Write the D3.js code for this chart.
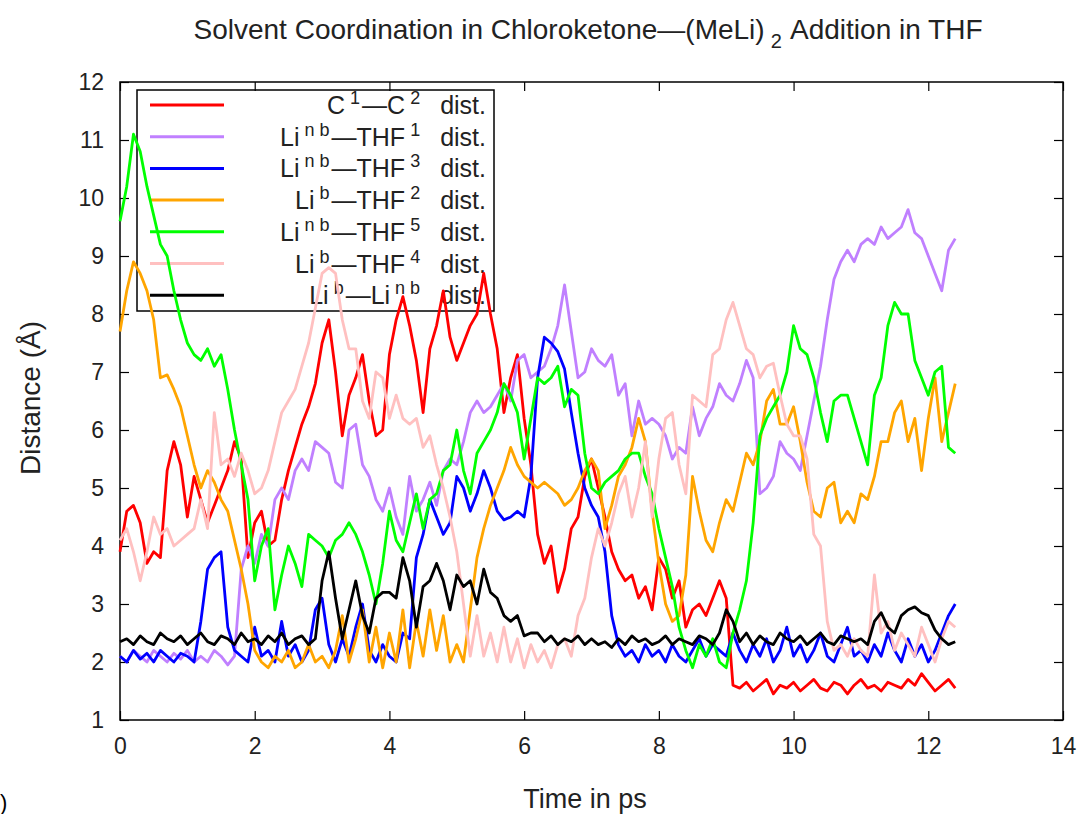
<!DOCTYPE html>
<html>
<head>
<meta charset="utf-8">
<script src="https://cdn.jsdelivr.net/npm/d3@7"></script>
<style>
  body { margin: 0; background: #fff; }
  svg { display: block; font-family: "Liberation Sans", Arial, sans-serif; }
  text { white-space: pre; }
</style>
</head>
<body>
<div id="chart"></div>
<script>
// Solvent coordination distances over the trajectory, sampled every 0.1 ps
const timePs = d3.range(125).map(i => i / 10);

const c1c2Dist = [
  3.9, 4.6, 4.7, 4.4, 3.7, 3.9, 3.8, 5.3, 5.8, 5.4,
  4.5, 5.2, 4.8, 4.4, 4.7, 5.0, 5.3, 5.8, 5.5, 3.8,
  4.4, 4.6, 4.0, 4.1, 4.8, 5.3, 5.7, 6.1, 6.4, 6.8,
  7.5, 7.9, 7.0, 5.9, 6.6, 6.9, 7.3, 6.5, 5.9, 6.0,
  7.3, 7.9, 8.3, 7.8, 7.2, 6.3, 7.4, 7.8, 8.4, 7.6,
  7.2, 7.5, 7.8, 8.0, 8.7, 8.0, 7.4, 6.3, 6.9, 7.3,
  6.2, 5.4, 4.2, 3.7, 4.0, 3.2, 3.6, 4.3, 4.5, 5.2,
  5.5, 5.0, 4.5, 3.9, 3.6, 3.4, 3.5, 3.1, 3.3, 2.9,
  3.8, 3.6, 3.1, 3.4, 2.6, 2.9, 3.0, 2.8, 3.1, 3.4,
  3.1, 1.6, 1.55, 1.65, 1.5, 1.6, 1.7, 1.45, 1.6, 1.55,
  1.65, 1.5, 1.6, 1.7, 1.55, 1.5, 1.65, 1.6, 1.45, 1.6,
  1.7, 1.55, 1.6, 1.5, 1.65, 1.6, 1.55, 1.7, 1.6, 1.8,
  1.65, 1.5, 1.6, 1.7, 1.55
];

const linbThf1Dist = [
  2.1, 2.0, 2.2, 2.1, 2.0, 2.2, 2.1, 2.0, 2.15, 2.05,
  2.2, 2.0, 2.1, 2.0, 2.2, 2.1, 1.95, 2.1, 3.6, 4.0,
  3.7, 4.2, 4.0, 4.8, 5.0, 4.8, 5.3, 5.5, 5.3, 5.8,
  5.7, 5.6, 5.1, 5.0, 6.0, 6.1, 5.4, 5.2, 4.8, 4.6,
  5.0, 4.5, 4.2, 5.2, 4.6, 4.8, 5.1, 4.7, 5.3, 5.5,
  5.4, 5.8, 6.3, 6.5, 6.3, 6.4, 6.6, 6.8, 6.5, 7.2,
  7.3, 6.9, 7.0, 7.1, 7.4, 7.8, 8.5, 7.7, 6.9, 7.0,
  7.4, 7.2, 7.1, 7.3, 6.6, 6.8, 5.9, 6.5, 6.1, 6.2,
  6.1, 5.9, 5.5, 5.7, 5.6, 6.4, 5.9, 6.2, 6.4, 6.8,
  6.6, 6.5, 6.8, 7.2, 6.9, 4.9, 5.0, 5.2, 5.8, 5.6,
  5.5, 5.3, 5.9, 6.5, 7.1, 7.9, 8.6, 8.9, 9.1, 8.9,
  9.2, 9.3, 9.2, 9.5, 9.3, 9.4, 9.5, 9.8, 9.4, 9.3,
  9.0, 8.7, 8.4, 9.1, 9.3
];

const linbThf3Dist = [
  2.1, 2.0, 2.2, 2.05, 2.15, 2.0, 2.2, 2.1, 2.0, 2.15,
  2.1, 2.0, 2.7, 3.6, 3.8, 3.9, 2.6, 2.2, 2.1, 2.0,
  2.6, 2.1, 2.2, 2.0, 2.7, 2.1, 2.3, 2.0, 2.2, 2.9,
  3.1, 2.3, 2.0, 2.4, 2.1, 2.6, 3.0, 2.2, 2.0, 2.3,
  2.1, 2.0, 2.5, 2.4, 3.8, 4.2, 4.8, 4.5, 4.2, 4.4,
  5.2, 5.0, 4.6, 4.9, 5.3, 5.0, 4.6, 4.45, 4.5, 4.6,
  4.5, 5.2, 6.9, 7.6, 7.5, 7.35, 7.05, 6.3, 5.6, 5.0,
  4.7, 4.5, 3.9, 2.8, 2.3, 2.1, 2.2, 2.0, 2.3, 2.1,
  2.2, 2.0, 2.3, 2.1, 2.0, 2.2, 2.4, 2.1, 2.3, 2.2,
  2.1, 2.5, 2.2, 2.0, 2.3, 2.1, 2.4, 2.0, 2.2, 2.6,
  2.1, 2.3, 2.0, 2.2, 2.5, 2.1, 2.0, 2.3, 2.6, 2.1,
  2.2, 2.0, 2.3, 2.1, 2.5, 2.2, 2.0, 2.4, 2.1, 2.3,
  2.0, 2.2, 2.5, 2.8, 3.0
];

const libThf2Dist = [
  7.7, 8.4, 8.9, 8.7, 8.4, 7.9, 6.9, 6.95, 6.7, 6.4,
  5.9, 5.4, 5.0, 5.3, 5.1, 4.8, 4.6, 4.1, 3.6, 3.0,
  2.2, 2.0, 1.9, 2.1, 2.0, 2.2, 1.9, 2.0, 2.3, 2.0,
  2.1, 1.9, 2.2, 2.8, 2.0, 2.4, 2.9, 2.0, 2.6, 1.9,
  2.5, 2.0, 2.9, 1.9, 2.7, 2.1, 2.9, 2.2, 2.8, 2.0,
  2.3, 2.0, 2.9, 3.8, 4.3, 4.7, 5.0, 5.3, 5.7, 5.4,
  5.2, 5.1, 5.0, 5.1, 5.0, 4.9, 4.7, 4.8, 5.0, 5.3,
  5.5, 5.3, 4.3, 4.7, 5.2, 5.4, 5.7, 6.2, 5.8, 4.6,
  3.7, 3.0, 2.7, 2.8, 3.5, 5.2, 4.6, 4.1, 3.9, 4.4,
  4.8, 4.6, 5.1, 5.6, 5.4, 5.8, 6.5, 6.7, 6.1, 6.1,
  6.4, 5.8, 5.1, 4.6, 4.5, 5.0, 5.1, 4.4, 4.6, 4.4,
  4.9, 4.8, 5.2, 5.8, 5.8, 6.3, 6.5, 5.8, 6.2, 5.3,
  6.2, 6.9, 5.8, 6.3, 6.8
];

const linbThf5Dist = [
  9.6, 10.2, 11.1, 10.8, 10.2, 9.7, 9.2, 9.0, 8.4, 7.9,
  7.5, 7.3, 7.2, 7.4, 7.1, 7.3, 6.7, 6.0, 5.4, 4.8,
  3.4, 4.0, 4.3, 2.9, 3.5, 4.0, 3.7, 3.3, 4.2, 4.1,
  4.0, 3.8, 4.1, 4.2, 4.4, 4.2, 3.9, 3.5, 3.0, 3.7,
  4.6, 4.1, 3.9, 4.4, 4.9, 4.3, 4.8, 4.9, 5.3, 5.4,
  6.0, 5.3, 4.9, 5.6, 5.8, 6.0, 6.3, 6.8, 6.6, 6.3,
  5.5, 6.2, 6.9, 6.8, 6.9, 7.1, 6.4, 6.7, 6.6, 5.6,
  5.0, 4.9, 5.1, 5.2, 5.3, 5.5, 5.6, 5.6, 5.2, 4.9,
  4.3, 3.8, 3.3, 2.6, 2.2, 1.9, 2.3, 2.1, 2.4, 2.0,
  1.9, 2.5, 2.9, 3.4, 4.4, 5.9, 6.2, 6.4, 6.6, 7.0,
  7.8, 7.4, 7.3, 6.9, 6.3, 5.8, 6.5, 6.6, 6.6, 6.2,
  5.8, 5.4, 6.6, 6.9, 7.8, 8.2, 8.0, 8.0, 7.2, 6.9,
  6.6, 7.0, 7.1, 5.7, 5.6
];

const libThf4Dist = [
  4.1, 4.3, 3.9, 3.4, 3.9, 4.5, 4.2, 4.3, 4.0, 4.1,
  4.2, 4.3, 4.8, 4.3, 6.3, 5.4, 5.5, 5.2, 5.6, 5.3,
  4.9, 5.0, 5.3, 5.8, 6.3, 6.5, 6.7, 7.1, 7.5, 8.1,
  8.7, 8.8, 8.7, 7.9, 7.4, 7.4, 6.5, 6.2, 7.0, 6.9,
  6.2, 6.6, 6.2, 6.1, 6.2, 5.7, 5.9, 5.4, 5.0, 4.5,
  3.9, 3.0, 2.1, 2.8, 2.1, 2.5, 2.0, 2.6, 2.0, 2.4,
  1.9, 2.3, 2.0, 2.2, 1.9, 2.3, 2.4, 2.1, 2.8, 3.1,
  3.8, 4.3, 4.0, 4.4, 4.9, 5.2, 4.5, 5.0, 5.8, 4.5,
  5.5, 6.2, 6.3, 5.4, 4.9, 6.6, 6.5, 6.4, 7.3, 7.4,
  7.9, 8.2, 7.8, 7.4, 7.3, 6.9, 7.1, 7.15, 6.6, 6.1,
  5.9, 5.9, 5.5, 4.2, 4.0, 2.7, 2.2, 2.3, 2.1, 2.4,
  2.2, 2.1, 3.5, 2.5, 2.7, 2.2, 2.5, 2.3, 2.1, 2.6,
  2.3, 2.0, 2.4, 2.7, 2.6
];

const libLinbDist = [
  2.35, 2.4, 2.3, 2.45, 2.35, 2.3, 2.5, 2.4, 2.35, 2.45,
  2.3, 2.4, 2.5, 2.35, 2.3, 2.45, 2.4, 2.3, 2.5, 2.35,
  2.4, 2.3, 2.45, 2.35, 2.5, 2.3, 2.4, 2.45, 2.3, 2.4,
  3.4, 3.9, 3.1, 2.4, 2.9, 3.4, 2.8, 2.5, 3.1, 3.2,
  3.2, 3.1, 3.8, 3.4, 2.6, 3.3, 3.4, 3.7, 3.4, 2.9,
  3.5, 3.3, 3.4, 3.0, 3.6, 3.2, 3.1, 2.8, 2.7, 2.8,
  2.45, 2.5, 2.5, 2.35, 2.45, 2.3, 2.4, 2.35, 2.45, 2.3,
  2.4, 2.3, 2.35, 2.25, 2.4, 2.3, 2.45, 2.35, 2.4, 2.3,
  2.35, 2.45, 2.3, 2.4, 2.35, 2.3, 2.45, 2.4, 2.3, 2.5,
  2.9, 2.7, 2.35, 2.5, 2.3, 2.45, 2.35, 2.3, 2.5, 2.4,
  2.35, 2.45, 2.3, 2.4, 2.5, 2.35, 2.3, 2.45, 2.4, 2.35,
  2.4, 2.3, 2.7, 2.85, 2.6, 2.5, 2.8, 2.9, 2.95, 2.85,
  2.8, 2.55, 2.4, 2.3, 2.35
];

const seriesValues = [c1c2Dist, linbThf1Dist, linbThf3Dist, libThf2Dist, linbThf5Dist, libThf4Dist, libLinbDist];
const seriesColors = ['#ff0000', '#c080ff', '#0000ff', '#ffa500', '#00ff00', '#ffc0c0', '#000000'];
// legend labels as [text, kind] parts; kind 'sup' = superscript
const seriesLabels = [
  [['C'], ['1', 'sup'], ['—C'], ['2', 'sup'], ['dist.', 'gap']],
  [['Li'], ['n b', 'sup'], ['—THF'], ['1', 'sup'], ['dist.', 'gap']],
  [['Li'], ['n b', 'sup'], ['—THF'], ['3', 'sup'], ['dist.', 'gap']],
  [['Li'], ['b', 'sup'], ['—THF'], ['2', 'sup'], ['dist.', 'gap']],
  [['Li'], ['n b', 'sup'], ['—THF'], ['5', 'sup'], ['dist.', 'gap']],
  [['Li'], ['b', 'sup'], ['—THF'], ['4', 'sup'], ['dist.', 'gap']],
  [['Li'], ['b', 'sup'], ['—Li'], ['n b', 'sup'], ['dist.', 'gap']]
];

const xTicks = [0, 2, 4, 6, 8, 10, 12, 14];
const yTicks = [1, 2, 3, 4, 5, 6, 7, 8, 9, 10, 11, 12];
const titleParts = [['Solvent Coordination in Chloroketone—(MeLi)'], ['2', 'sub'], [' Addition in THF']];

const W = 1081, H = 814;
const plot = { left: 120, right: 1063, top: 82, bottom: 720 };

const svg = d3.select('#chart').append('svg')
  .attr('width', W).attr('height', H);

const x = d3.scaleLinear().domain([0, 14]).range([plot.left, plot.right]);
const y = d3.scaleLinear().domain([1, 12]).range([plot.bottom, plot.top]);

// write text with raised / lowered pieces
function richText(sel, parts, supSize, shiftPx, gap) {
  let shift = 0;
  parts.forEach(([txt, kind]) => {
    const ts = sel.append('tspan').text(txt);
    if (kind === 'sup') {
      ts.attr('dy', -shiftPx - shift).attr('dx', gap).attr('font-size', supSize);
      shift = -shiftPx;
    } else if (kind === 'sub') {
      ts.attr('dy', shiftPx - shift).attr('dx', gap).attr('font-size', supSize);
      shift = shiftPx;
    } else {
      ts.attr('dy', -shift).attr('dx', kind === 'gap' ? gap * 4 : (shift ? 2 : 0));
      shift = 0;
    }
  });
}

// title
richText(svg.append('text')
  .attr('x', 588).attr('y', 39)
  .attr('text-anchor', 'middle')
  .attr('fill', '#222')
  .style('font-size', '28px'), titleParts, 20, 9, 6);

// axes (ticks point inward, mirrored)
const tickLen = 9;
const frame = svg.append('g');
const bottomAxis = d3.axisBottom(x).tickValues(xTicks).tickSize(-tickLen).tickPadding(18);
const topAxis = d3.axisTop(x).tickValues(xTicks).tickSize(-tickLen).tickFormat('');
const leftAxis = d3.axisLeft(y).tickValues(yTicks).tickSize(-tickLen).tickPadding(16);
const rightAxis = d3.axisRight(y).tickValues(yTicks).tickSize(-tickLen).tickFormat('');

frame.append('g').attr('transform', `translate(0,${plot.bottom})`).call(bottomAxis);
frame.append('g').attr('transform', `translate(0,${plot.top})`).call(topAxis);
frame.append('g').attr('transform', `translate(${plot.left},0)`).call(leftAxis);
frame.append('g').attr('transform', `translate(${plot.right},0)`).call(rightAxis);
frame.selectAll('.domain').remove();
frame.selectAll('.tick line').attr('stroke', '#000').attr('stroke-width', 1.2);
frame.selectAll('.tick text')
  .style('font-family', '"Liberation Sans", Arial, sans-serif')
  .style('font-size', '23px').attr('fill', '#222');

frame.append('rect')
  .attr('x', plot.left).attr('y', plot.top)
  .attr('width', plot.right - plot.left).attr('height', plot.bottom - plot.top)
  .attr('fill', 'none').attr('stroke', '#000').attr('stroke-width', 1.5);

// axis labels
svg.append('text')
  .attr('x', 585).attr('y', 808)
  .attr('text-anchor', 'middle')
  .style('font-size', '27px').attr('fill', '#222')
  .text('Time in ps');

svg.append('text')
  .attr('transform', 'rotate(-90)')
  .attr('x', -(plot.top + plot.bottom) / 2 + 3).attr('y', 40)
  .attr('text-anchor', 'middle')
  .style('font-size', '28px').attr('fill', '#222')
  .text('Distance (Å)');

svg.append('text')
  .attr('x', 0).attr('y', 810)
  .style('font-size', '22px')
  .text(')');

// legend (transparent box, drawn under the curves)
const legend = { left: 137, right: 494, top: 90, bottom: 311, row0: 105, rowStep: 31.7 };
const lg = svg.append('g');
lg.append('rect')
  .attr('x', legend.left).attr('y', legend.top)
  .attr('width', legend.right - legend.left).attr('height', legend.bottom - legend.top)
  .attr('fill', 'none').attr('stroke', '#000').attr('stroke-width', 1.5);

seriesLabels.forEach((parts, i) => {
  const ry = legend.row0 + i * legend.rowStep;
  lg.append('line')
    .attr('x1', 150).attr('x2', 224).attr('y1', ry).attr('y2', ry)
    .attr('stroke', seriesColors[i]).attr('stroke-width', 3);
  richText(lg.append('text')
    .attr('x', 486).attr('y', ry + 9)
    .attr('text-anchor', 'end')
    .attr('fill', '#222')
    .style('font-size', '25px'), parts, 18, 10, 5);
});

// curves
const line = d3.line()
  .x((d, i) => x(timePs[i]))
  .y(d => y(d));

svg.append('g').selectAll('path')
  .data(seriesValues)
  .join('path')
  .attr('d', d => line(d))
  .attr('fill', 'none')
  .attr('stroke', (d, i) => seriesColors[i])
  .attr('stroke-width', 2.8)
  .attr('stroke-linejoin', 'round');
</script>
</body>
</html>
